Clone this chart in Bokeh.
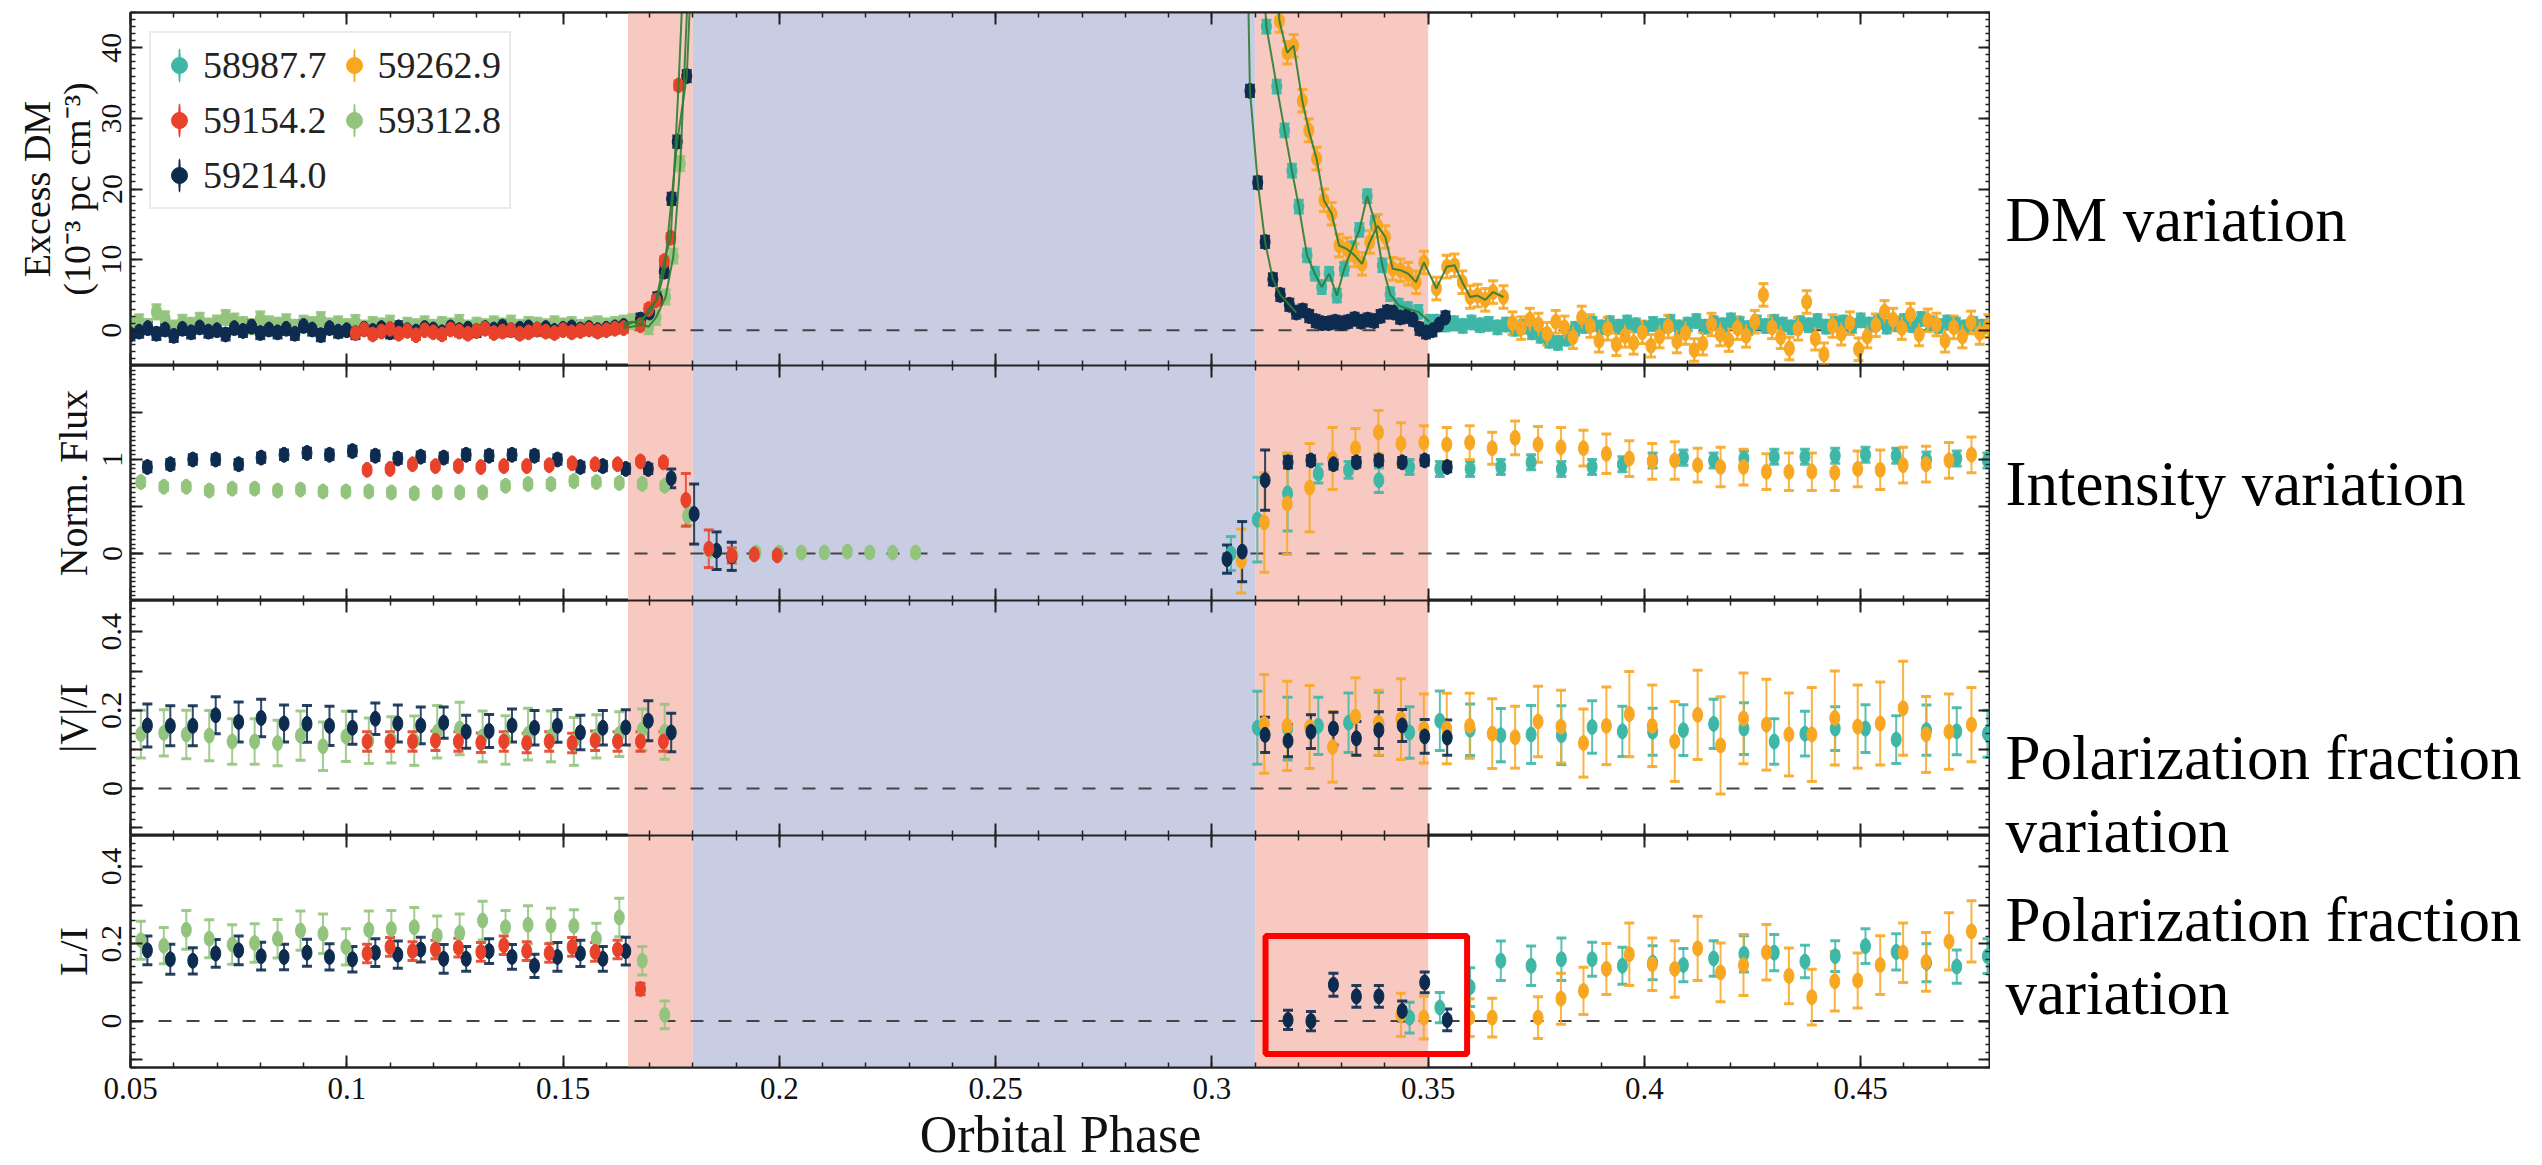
import numpy as np
from bokeh.plotting import figure
from bokeh.models import (ColumnDataSource, Whisker, TeeHead, Span, BoxAnnotation, Label,
                          Legend, LegendItem, LinearAxis, FixedTicker, Range1d)
from bokeh.layouts import column, row
from bokeh.embed import file_html
from bokeh.resources import INLINE

# ---------------------------------------------------------------- data
SERIES = ["58987.7", "59154.2", "59214.0", "59262.9", "59312.8"]
COLORS = {"58987.7": "#3fb7a7", "59154.2": "#e8432a", "59214.0": "#0d2b4f",
          "59262.9": "#f8a723", "59312.8": "#93c47d"}

# ---- panel 1 : excess DM (1e-3 pc cm^-3)
DM_NAVY_X = [0.050, 0.052, 0.054, 0.056, 0.058, 0.060, 0.062, 0.064, 0.066, 0.068, 0.070, 0.072, 0.074, 0.076, 0.078,
             0.080, 0.082, 0.084, 0.086, 0.088, 0.090, 0.092, 0.094, 0.096, 0.098, 0.100, 0.102, 0.104, 0.106, 0.108,
             0.110, 0.112, 0.114, 0.116, 0.118, 0.120, 0.122, 0.124, 0.126, 0.128, 0.130, 0.132, 0.134, 0.136, 0.138,
             0.140, 0.142, 0.144, 0.146, 0.148, 0.150, 0.152, 0.154, 0.156, 0.158, 0.160, 0.162, 0.164,
             0.1679, 0.1700, 0.1718, 0.1734, 0.1751, 0.1764, 0.1786, 0.1803,
             0.3071, 0.3088, 0.3106, 0.3123, 0.3141, 0.3158, 0.3179, 0.3195, 0.3210, 0.3225, 0.3240, 0.3255, 0.3270,
             0.3285, 0.3300, 0.3315, 0.3330, 0.3345, 0.3360, 0.3375, 0.3390, 0.3405, 0.3420, 0.3435, 0.3450, 0.3465,
             0.3480, 0.3495, 0.3510, 0.3525, 0.3540]
DM_NAVY_Y = [-0.6, -0.2, 0.3, -0.5, 0.1, -0.8, 0.2, -0.3, 0.4, -0.2, 0.0, -0.6, 0.3, -0.1, 0.5, -0.4, 0.1, -0.3, 0.2, -0.5,
             0.6, 0.1, -0.7, 0.3, -0.2, 0.0, -0.4, 0.2, -0.1, 0.3, -0.3, 0.4, 0.0, -0.2, 0.3, 0.1, -0.3, 0.4, 0.0, 0.2,
             -0.1, 0.3, 0.1, 0.5, 0.0, 0.2, 0.4, 0.1, 0.3, -0.1, 0.2, 0.4, 0.1, 0.3, 0.0, 0.2, 0.4, 0.6,
             1.5, 2.5, 4.5, 8.3, 18.6, 26.7, 36.0, 60.0,
             90.0, 33.9, 20.9, 12.5, 7.2, 5.0, 3.6, 2.5, 2.8, 2.0, 1.3, 1.0, 1.0, 1.2, 1.0, 1.2, 1.6, 1.2, 1.5, 1.3,
             2.0, 2.6, 2.5, 1.8, 2.0, 1.5, 0.2, -0.3, 0.0, 0.8, 1.8]
DM_RED_X = [0.102, 0.104, 0.106, 0.108, 0.110, 0.112, 0.114, 0.116, 0.118, 0.120, 0.122, 0.124, 0.126, 0.128, 0.130,
            0.132, 0.134, 0.136, 0.138, 0.140, 0.142, 0.144, 0.146, 0.148, 0.150, 0.152, 0.154, 0.156, 0.158, 0.160,
            0.162, 0.164, 0.1679, 0.1698, 0.1715, 0.1734, 0.1749, 0.1767, 0.1785]
DM_RED_Y = [-0.4, 0.1, -0.6, -0.2, 0.2, -0.5, -0.1, -0.7, 0.0, -0.3, -0.6, 0.1, -0.2, -0.5, -0.1, 0.2, -0.4, -0.2, 0.0,
            -0.5, -0.3, 0.1, -0.2, -0.4, 0.0, -0.3, -0.1, 0.1, -0.2, 0.0, 0.2, 0.3,
            0.7, 3.0, 4.2, 9.8, 13.1, 34.7, 60.0]
DM_GREEN_X = [0.050, 0.052, 0.054, 0.056, 0.058, 0.060, 0.062, 0.064, 0.066, 0.068, 0.070, 0.072, 0.074, 0.076, 0.078,
              0.080, 0.082, 0.084, 0.086, 0.088, 0.090, 0.092, 0.094, 0.096, 0.098, 0.100, 0.102, 0.104, 0.106, 0.108,
              0.110, 0.112, 0.114, 0.116, 0.118, 0.120, 0.122, 0.124, 0.126, 0.128, 0.130, 0.132, 0.134, 0.136, 0.138,
              0.140, 0.142, 0.144, 0.146, 0.148, 0.150, 0.152, 0.154, 0.156, 0.158, 0.160, 0.162, 0.164, 0.166,
              0.1698, 0.1715, 0.1737, 0.1755, 0.1771, 0.1790]
DM_GREEN_Y = [0.8, 1.2, 0.5, 2.6, 1.6, 0.3, 1.1, 0.7, 1.4, 0.6, 1.0, 1.8, 1.3, 0.8, 0.5, 1.6, 0.9, 0.7, 1.2, 0.4,
              1.0, 0.8, 1.5, 0.6, 0.9, 0.5, 1.1, 0.3, 0.8, 0.6, 1.0, 0.2, 0.7, 0.5, 0.9, 0.4, 0.8, 0.6, 1.1, 0.3,
              0.7, 0.5, 0.9, 0.6, 1.0, 0.4, 0.8, 0.7, 0.5, 0.9, 0.6, 0.8, 0.4, 0.7, 0.9, 0.6, 0.8, 1.0, 1.2,
              0.5, 1.8, 4.7, 10.5, 23.6, 50.0]
DM_TEAL_X = [0.3108, 0.3126, 0.3150, 0.3168, 0.3185, 0.3201, 0.3220, 0.3238, 0.3254, 0.3271, 0.3289, 0.3306, 0.3324,
             0.3341, 0.3359, 0.3377, 0.3394, 0.3412, 0.3432, 0.3453, 0.3477, 0.3503,
             0.352, 0.354, 0.356, 0.358, 0.360, 0.362, 0.364, 0.366, 0.368, 0.370, 0.372, 0.374, 0.376, 0.378, 0.380,
             0.382, 0.384, 0.386, 0.388, 0.390, 0.392, 0.394, 0.396, 0.398, 0.400, 0.402, 0.404, 0.406, 0.408, 0.410,
             0.412, 0.414, 0.416, 0.418, 0.420, 0.422, 0.424, 0.426, 0.428, 0.430, 0.432, 0.434, 0.436, 0.438, 0.440,
             0.442, 0.444, 0.446, 0.448, 0.450, 0.452, 0.454, 0.456, 0.458, 0.460, 0.462, 0.464, 0.466, 0.468, 0.470,
             0.472, 0.474, 0.476, 0.478, 0.480]
DM_TEAL_Y = [60.0, 43.0, 34.5, 28.3, 22.6, 17.5, 10.6, 8.0, 6.1, 8.0, 4.9, 8.7, 11.6, 14.2, 19.0, 15.2, 9.2, 5.1, 3.5,
             3.0, 2.6, 1.2,
             1.2, 0.8, 1.0, 0.6, 1.1, 0.7, 0.9, 0.4, 0.8, 0.2, 0.5, -0.3, -0.8, -1.5, -1.8, -1.2, 0.2, 0.6, 0.9, 0.4,
             1.0, 0.5, 1.1, 0.7, 0.3, 0.9, 0.6, 1.2, 0.4, 0.8, 1.3, 0.5, 1.0, 0.7, 1.4, 0.9, 0.3, 1.1, 0.6, 1.2,
             0.8, 0.4, 1.0, 0.7, 1.3, 0.5, 0.9, 1.1, 0.6, 1.4, 0.8, 1.2, 0.5, 0.9, 1.3, 0.7, 1.6, 1.0, 0.6, 1.1,
             0.8, 0.4, 0.9, 0.5, 1.0]
DM_ORANGE_X = [0.3138, 0.3156, 0.3174, 0.3189, 0.3209, 0.3224, 0.3242, 0.3259, 0.3277, 0.3294, 0.3312, 0.3330, 0.3347,
               0.3365, 0.3383, 0.3401, 0.3418, 0.3436, 0.3454, 0.3472, 0.3490, 0.3519, 0.3543, 0.3561, 0.3579, 0.3597,
               0.3614, 0.3632, 0.3650, 0.3674,
               0.3695, 0.3715, 0.3735, 0.3755, 0.3775, 0.3795, 0.3815, 0.3835, 0.3855, 0.3875, 0.3895, 0.3915, 0.3935,
               0.3955, 0.3975, 0.3995, 0.4015, 0.4035, 0.4055, 0.4075, 0.4095, 0.4115, 0.4135, 0.4155, 0.4175, 0.4195,
               0.4215, 0.4235, 0.4255, 0.4275, 0.4295, 0.4315, 0.4335, 0.4355, 0.4375, 0.4395, 0.4415, 0.4435, 0.4455,
               0.4475, 0.4495, 0.4515, 0.4535, 0.4555, 0.4575, 0.4595, 0.4615, 0.4635, 0.4655, 0.4675, 0.4695, 0.4715,
               0.4735, 0.4755, 0.4775, 0.4795]
DM_ORANGE_Y = [60.0, 43.8, 39.3, 40.3, 32.5, 28.3, 24.3, 18.4, 16.5, 12.0, 11.5, 10.6, 9.4, 12.5, 14.8, 13.2, 8.7, 8.5,
               8.0, 6.8, 9.6, 5.9, 9.0, 9.2, 6.8, 4.7, 4.9, 4.3, 5.4, 4.7,
               1.0, 0.3, 1.5, 0.8, -0.5, 1.2, 0.4, -1.0, 1.8, 0.6, -1.5, 0.2, -2.0, -0.8, -1.8, -0.3, -2.2, -0.9, 0.5,
               -1.6, -0.4, -2.8, -1.9, 0.8, -0.6, -1.4, 0.3, -0.8, 1.2, 5.0, 0.4, -1.0, -2.6, 0.2, 4.0, -1.2, -3.4, 0.6,
               -0.5, 1.0, -2.7, -0.9, 0.7, 2.6, 1.5, 0.3, 2.2, -0.6, 1.4, 0.8, -1.5, 0.4, -0.9, 1.1, -0.4, 0.6]
DM_ERR = {"58987.7": 0.9, "59154.2": 0.6, "59214.0": 0.8, "59262.9": 1.6, "59312.8": 1.0}

# ---- phases of the flux / polarisation sub-integrations
NAVY_L_PH = [0.0539, 0.0592, 0.0644, 0.0697, 0.0750, 0.0802, 0.0855, 0.0908, 0.0960, 0.1013, 0.1066, 0.1118, 0.1171,
             0.1224, 0.1276, 0.1329, 0.1382, 0.1434, 0.1487, 0.1540, 0.1592, 0.1645, 0.1697, 0.1750, 0.1803, 0.1855,
             0.1890]
NAVY_R_PH = [0.3035, 0.3070, 0.3123, 0.3176, 0.3229, 0.3281, 0.3334, 0.3386, 0.3440, 0.3492, 0.3544]
RED_PH = [0.1047, 0.1100, 0.1152, 0.1205, 0.1258, 0.1310, 0.1363, 0.1416, 0.1468, 0.1521, 0.1574, 0.1626, 0.1679,
          0.1732, 0.1784, 0.1837, 0.1890, 0.1942, 0.1995]
GREEN_PH = [0.0524, 0.0577, 0.0629, 0.0682, 0.0735, 0.0787, 0.0840, 0.0893, 0.0945, 0.0998, 0.1051, 0.1103, 0.1156,
            0.1209, 0.1261, 0.1314, 0.1367, 0.1419, 0.1472, 0.1525, 0.1577, 0.1630, 0.1683, 0.1735, 0.1788, 0.1841,
            0.1893, 0.1946, 0.1999, 0.2051, 0.2104, 0.2157, 0.2209, 0.2262, 0.2315]
TEAL_PH = [0.3044, 0.3105, 0.3175, 0.3246, 0.3316, 0.3386, 0.3457, 0.3527, 0.3597, 0.3668, 0.3738, 0.3808, 0.3879,
           0.3949, 0.4019, 0.4090, 0.4160, 0.4230, 0.4300, 0.4371, 0.4441, 0.4511, 0.4582, 0.4652, 0.4722, 0.4793]
ORANGE_PH = [0.3068, 0.3121, 0.3174, 0.3226, 0.3279, 0.3332, 0.3385, 0.3437, 0.3490, 0.3543, 0.3596, 0.3648, 0.3701,
             0.3754, 0.3807, 0.3859, 0.3912, 0.3965, 0.4018, 0.4070, 0.4123, 0.4176, 0.4229, 0.4282, 0.4334, 0.4387,
             0.4440, 0.4493, 0.4545, 0.4598, 0.4651, 0.4704, 0.4756]
ORANGE_LI_PH = [0.3437, 0.3490, 0.3596, 0.3648, 0.3754, 0.3807, 0.3859, 0.3912, 0.3965, 0.4018, 0.4070, 0.4123, 0.4176,
                0.4229, 0.4282, 0.4334, 0.4387, 0.4440, 0.4493, 0.4545, 0.4598, 0.4651, 0.4704, 0.4756]

# ---- panel 2 : normalised flux
FLUX_NAVY_L = [0.92, 0.95, 1.00, 1.00, 0.95, 1.02, 1.05, 1.07, 1.05, 1.09, 1.04, 1.01, 1.03, 1.02, 1.05, 1.04, 1.05,
               1.04, 1.00, 0.92, 0.93, 0.90, 0.90, 0.80, 0.42, 0.03, -0.03]
FLUX_NAVY_L_E = [0.05, 0.05, 0.05, 0.05, 0.05, 0.05, 0.05, 0.05, 0.05, 0.05, 0.05, 0.05, 0.05, 0.05, 0.05, 0.05, 0.05,
                 0.05, 0.05, 0.05, 0.05, 0.05, 0.05, 0.10, 0.32, 0.20, 0.15]
FLUX_NAVY_R = [-0.06, 0.02, 0.78, 0.97, 0.99, 0.95, 0.97, 0.99, 0.97, 0.99, 0.92]
FLUX_NAVY_R_E = [0.15, 0.32, 0.32, 0.06, 0.05, 0.05, 0.05, 0.05, 0.05, 0.05, 0.05]
FLUX_RED = [0.89, 0.90, 0.95, 0.93, 0.93, 0.92, 0.93, 0.93, 0.94, 0.96, 0.95, 0.95, 0.98, 0.97, 0.57, 0.05, -0.02,
            -0.01, -0.02]
FLUX_RED_E = [0.03, 0.03, 0.03, 0.03, 0.03, 0.03, 0.03, 0.03, 0.03, 0.03, 0.03, 0.03, 0.03, 0.03, 0.28, 0.20, 0.08,
              0.03, 0.03]
FLUX_GREEN = [0.76, 0.71, 0.71, 0.67, 0.69, 0.69, 0.67, 0.68, 0.66, 0.66, 0.66, 0.65, 0.64, 0.65, 0.65, 0.65, 0.72,
              0.74, 0.74, 0.77, 0.76, 0.75, 0.74, 0.72, 0.40, 0.03, -0.02, 0.01, 0.01, 0.01, 0.01, 0.02, 0.01, 0.01,
              0.01]
FLUX_GREEN_E = [0.04] * 24 + [0.10, 0.05] + [0.03] * 9
FLUX_TEAL = [0.00, 0.36, 0.64, 0.85, 0.89, 0.78, 0.92, 0.90, 0.90, 0.92, 0.97, 0.90, 0.92, 0.95, 0.99, 1.02, 0.99,
             1.01, 1.03, 1.03, 1.04, 1.05, 1.04, 1.00, 1.01, 0.99]
FLUX_TEAL_E = [0.18, 0.45, 0.40, 0.10, 0.09, 0.13] + [0.08] * 20
FLUX_ORANGE = [-0.08, 0.33, 0.53, 0.70, 1.01, 1.12, 1.29, 1.17, 1.18, 1.16, 1.18, 1.12, 1.23, 1.16, 1.13, 1.12, 1.06,
               1.01, 0.98, 0.99, 0.94, 0.92, 0.92, 0.87, 0.87, 0.87, 0.86, 0.90, 0.89, 0.94, 0.95, 0.99, 1.05]
FLUX_ORANGE_E = [0.34, 0.53, 0.54, 0.47, 0.33, 0.21, 0.23, 0.22, 0.18, 0.18, 0.18, 0.17, 0.18, 0.19, 0.21, 0.19, 0.21,
                 0.19, 0.19, 0.20, 0.18, 0.21, 0.19, 0.19, 0.20, 0.20, 0.19, 0.19, 0.21, 0.19, 0.19, 0.19, 0.19]

# ---- panel 3 : |V|/I
VI_NAVY_L = [0.161, 0.160, 0.160, 0.187, 0.170, 0.180, 0.166, 0.165, 0.160, 0.155, 0.178, 0.166, 0.161, 0.168, 0.145,
             0.147, 0.161, 0.155, 0.160, 0.143, 0.155, 0.156, 0.173, 0.143]
VI_NAVY_L_E = [0.055, 0.051, 0.051, 0.047, 0.051, 0.048, 0.047, 0.047, 0.050, 0.042, 0.040, 0.047, 0.047, 0.040, 0.042,
               0.042, 0.042, 0.044, 0.042, 0.044, 0.044, 0.045, 0.051, 0.049]
VI_NAVY_R = [0.137, 0.122, 0.145, 0.153, 0.128, 0.149, 0.161, 0.133, 0.130]
VI_NAVY_R_E = [0.045, 0.041, 0.043, 0.042, 0.043, 0.047, 0.041, 0.043, 0.045]
VI_RED = [0.120, 0.120, 0.120, 0.122, 0.120, 0.117, 0.120, 0.116, 0.120, 0.116, 0.122, 0.120, 0.120, 0.120]
VI_RED_E = [0.025] * 14
VI_GREEN = [0.139, 0.142, 0.138, 0.135, 0.120, 0.120, 0.116, 0.135, 0.108, 0.133, 0.122, 0.124, 0.122, 0.145, 0.153,
            0.133, 0.124, 0.139, 0.133, 0.120, 0.133, 0.139, 0.150, 0.145]
VI_GREEN_E = [0.061, 0.059, 0.062, 0.064, 0.058, 0.058, 0.058, 0.063, 0.062, 0.064, 0.058, 0.059, 0.063, 0.067, 0.067,
              0.065, 0.062, 0.066, 0.065, 0.061, 0.055, 0.057, 0.053, 0.070]
VI_TEAL = [0.155, 0.153, 0.160, 0.168, 0.165, 0.143, 0.173, 0.150, 0.136, 0.138, 0.136, 0.157, 0.146, 0.145, 0.149,
           0.165, 0.153, 0.120, 0.140, 0.153, 0.153, 0.125, 0.149, 0.146, 0.140]
VI_TEAL_E = [0.093, 0.080, 0.073, 0.076, 0.081, 0.066, 0.076, 0.066, 0.068, 0.074, 0.075, 0.067, 0.064, 0.060, 0.065,
             0.063, 0.066, 0.058, 0.057, 0.056, 0.061, 0.061, 0.064, 0.060, 0.060]
VI_ORANGE = [0.165, 0.160, 0.157, 0.106, 0.184, 0.168, 0.177, 0.153, 0.153, 0.160, 0.140, 0.131, 0.171, 0.158, 0.116,
             0.160, 0.190, 0.160, 0.120, 0.188, 0.110, 0.179, 0.163, 0.138, 0.138, 0.180, 0.158, 0.166, 0.205, 0.138,
             0.145, 0.163]
VI_ORANGE_E = [0.126, 0.114, 0.106, 0.090, 0.099, 0.083, 0.103, 0.088, 0.090, 0.083, 0.089, 0.079, 0.090, 0.093, 0.087,
               0.099, 0.109, 0.104, 0.102, 0.114, 0.124, 0.116, 0.116, 0.106, 0.120, 0.120, 0.106, 0.106, 0.120, 0.097,
               0.096, 0.095]

# ---- panel 4 : L/I
LI_NAVY_L = [0.183, 0.160, 0.156, 0.175, 0.183, 0.168, 0.166, 0.177, 0.166, 0.160, 0.177, 0.172, 0.185, 0.161, 0.161,
             0.181, 0.166, 0.143, 0.166, 0.175, 0.161, 0.181]
LI_NAVY_L_E = [0.037, 0.039, 0.034, 0.036, 0.037, 0.036, 0.033, 0.035, 0.034, 0.033, 0.036, 0.035, 0.032, 0.037, 0.032,
               0.032, 0.032, 0.030, 0.037, 0.034, 0.032, 0.036]
LI_NAVY_R = [0.003, 0.000, 0.094, 0.064, 0.064, 0.026, 0.100, 0.003]
LI_NAVY_R_E = [0.025, 0.025, 0.030, 0.028, 0.028, 0.026, 0.027, 0.028]
LI_RED = [0.175, 0.192, 0.181, 0.185, 0.190, 0.179, 0.196, 0.181, 0.176, 0.192, 0.179, 0.185, 0.083]
LI_RED_E = [0.024] * 12 + [0.015]
LI_GREEN = [0.209, 0.195, 0.236, 0.213, 0.198, 0.202, 0.213, 0.234, 0.226, 0.192, 0.236, 0.238, 0.243, 0.221, 0.228,
            0.260, 0.243, 0.249, 0.247, 0.246, 0.213, 0.268, 0.156, 0.016]
LI_GREEN_E = [0.049, 0.047, 0.050, 0.049, 0.051, 0.050, 0.050, 0.051, 0.051, 0.047, 0.049, 0.048, 0.051, 0.051, 0.049,
              0.050, 0.043, 0.049, 0.045, 0.042, 0.040, 0.050, 0.037, 0.036]
LI_TEAL = [0.009, 0.035, 0.088, 0.156, 0.143, 0.160, 0.160, 0.143, 0.151, 0.145, 0.162, 0.174, 0.177, 0.154, 0.168,
           0.194, 0.179, 0.151, 0.141, 0.168]
LI_TEAL_E = [0.040, 0.039, 0.050, 0.051, 0.051, 0.055, 0.044, 0.048, 0.044, 0.043, 0.046, 0.047, 0.047, 0.042, 0.040,
             0.045, 0.047, 0.049, 0.043, 0.045]
LI_ORANGE = [0.016, 0.009, 0.009, 0.009, 0.009, 0.058, 0.078, 0.135, 0.173, 0.147, 0.135, 0.188, 0.126, 0.145, 0.178,
             0.117, 0.062, 0.103, 0.105, 0.145, 0.177, 0.153, 0.206, 0.232]
LI_ORANGE_E = [0.056, 0.055, 0.049, 0.050, 0.054, 0.066, 0.061, 0.066, 0.081, 0.068, 0.073, 0.083, 0.076, 0.079, 0.072,
               0.072, 0.072, 0.077, 0.071, 0.076, 0.077, 0.076, 0.074, 0.079]

# ---- annotations
SHADE_RED = [(0.165, 0.18), (0.31, 0.35)]
SHADE_BLUE = [(0.18, 0.31)]
BOX = dict(left=0.3124, right=0.359, bottom=-0.085, top=0.22)
# captions to the right of the panels: (text, vertical centre in page pixels from the top)
CAPTIONS = [("DM variation", 219), ("Intensity variation", 483),
            ("Polarization fraction", 757), ("variation", 830),
            ("Polarization fraction", 919), ("variation", 992)]
X_TICKS = [0.05, 0.1, 0.15, 0.2, 0.25, 0.3, 0.35, 0.4, 0.45]
X_LABELS = ["0.05", "0.1", "0.15", "0.2", "0.25", "0.3", "0.35", "0.4", "0.45"]

# ---------------------------------------------------------------- style
FONT = "Liberation Serif"
INK = "#222222"
SALMON = "#f8c9c0"
LAVENDER = "#c9cde4"
LINE_GREEN = "#2e7d32"
XR = Range1d(0.05, 0.48)
PLOT_W, TEXT_W, PAGE_H = 1990, 552, 1165
LEFT = 130


def make_panel(height, yr, btop, bbot):
    p = figure(width=PLOT_W, height=height, x_range=XR, y_range=Range1d(*yr),
               output_backend="svg", toolbar_location=None,
               x_axis_location=None, y_axis_location=None,
               min_border_left=LEFT, min_border_right=0,
               min_border_top=btop, min_border_bottom=bbot)
    p.grid.visible = False
    p.outline_line_color = INK
    p.outline_line_width = 2
    p.background_fill_color = "white"
    p.border_fill_color = "white"
    for a, b in SHADE_RED:
        p.add_layout(BoxAnnotation(left=a, right=b, fill_color=SALMON, fill_alpha=1.0,
                                   line_color=None, level="underlay"))
    for a, b in SHADE_BLUE:
        p.add_layout(BoxAnnotation(left=a, right=b, fill_color=LAVENDER, fill_alpha=1.0,
                                   line_color=None, level="underlay"))
    p.add_layout(Span(location=0, dimension="width", line_color="#444444", line_width=2,
                      line_dash="13 15", level="underlay"))
    return p


def style_axis(ax, show):
    ax.major_tick_in = 12
    ax.major_tick_out = 0
    ax.minor_tick_in = 5
    ax.minor_tick_out = 0
    ax.major_tick_line_width = 2
    ax.minor_tick_line_width = 1.5
    ax.major_tick_line_color = INK
    ax.minor_tick_line_color = INK
    ax.axis_line_width = 2
    ax.axis_line_color = INK
    ax.major_label_text_font = FONT
    ax.major_label_text_font_style = "normal"
    ax.major_label_text_color = "#111111"
    ax.axis_label_text_font = FONT
    ax.axis_label_text_font_style = "normal"
    ax.axis_label_text_color = "#111111"
    if not show:
        ax.major_label_text_font_size = "1px"
        ax.major_label_text_color = None
        ax.major_label_standoff = 0


def add_axes(p, yticks, ylabels, yminor, ylabel, ylabel_size, ystand, show_x):
    xt = FixedTicker(ticks=X_TICKS, minor_ticks=[round(0.05 + 0.01 * i, 3) for i in range(44)])
    for loc in ("below", "above"):
        ax = LinearAxis(ticker=xt)
        style_axis(ax, show_x and loc == "below")
        if show_x and loc == "below":
            ax.major_label_overrides = dict(zip(X_TICKS, X_LABELS))
            ax.major_label_text_font_size = "31px"
            ax.major_label_text_line_height = 0.8
            ax.major_label_standoff = 10
            ax.axis_label = "Orbital Phase"
            ax.axis_label_text_font_size = "52px"
            ax.axis_label_text_line_height = 0.8
            ax.axis_label_standoff = 4
        p.add_layout(ax, loc)
    yt = FixedTicker(ticks=yticks, minor_ticks=yminor)
    for loc in ("left", "right"):
        ax = LinearAxis(ticker=yt)
        style_axis(ax, loc == "left")
        if loc == "left":
            ax.major_label_overrides = dict(zip(yticks, ylabels))
            ax.major_label_text_font_size = "30px"
            ax.major_label_orientation = "vertical"
            ax.major_label_standoff = 9
            ax.axis_label = ylabel
            ax.axis_label_text_font_size = ylabel_size
            ax.axis_label_text_line_height = 0.95
            ax.axis_label_standoff = ystand
        p.add_layout(ax, loc)


def plot_series(p, x, y, err, color, legend_parts=False):
    assert len(x) == len(y) == len(err), (color, len(x), len(y), len(err))
    src = ColumnDataSource(dict(x=list(x), y=list(y),
                                lo=[a - e for a, e in zip(y, err)],
                                hi=[a + e for a, e in zip(y, err)],
                                h2=[2 * e for e in err]))
    head = dict(size=10, line_color=color, line_width=3, line_alpha=0.9)
    p.add_layout(Whisker(base="x", lower="lo", upper="hi", source=src, dimension="height",
                         line_color=color, line_width=2, line_alpha=0.85, level="underlay",
                         upper_head=TeeHead(**head), lower_head=TeeHead(**head)))
    parts = []
    if legend_parts:
        bar = p.ellipse(x="x", y="y", width=0.2, height="h2", width_units="screen",
                        source=src, fill_color=color, line_color=color, line_width=2)
        dot = p.scatter(x="x", y="y", size=9, marker="circle", source=src,
                        fill_color=color, line_color=color)
        parts = [bar, dot]
    p.ellipse(x="x", y="y", width=10, height=15, width_units="screen", height_units="screen",
              source=src, fill_color=color, line_color=color, line_width=1)
    return parts


# ---------------------------------------------------------------- panel 1
p1 = make_panel(365, (-5, 45), 12, 0)
add_axes(p1, [0, 10, 20, 30, 40], ["0", "10", "20", "30", "40"],
         [float(v) for v in range(-5, 46)],
         "Excess DM\n(10\u207b\u00b3 pc cm\u207b\u00b3)", "38px", 2, False)

dm = {
    "59312.8": (DM_GREEN_X, DM_GREEN_Y),
    "58987.7": (DM_TEAL_X, DM_TEAL_Y),
    "59262.9": (DM_ORANGE_X, DM_ORANGE_Y),
    "59214.0": (DM_NAVY_X, DM_NAVY_Y),
    "59154.2": (DM_RED_X, DM_RED_Y),
}
legend_r = {}
for name, (xs, ys) in dm.items():
    legend_r[name] = plot_series(p1, xs, ys, [DM_ERR[name]] * len(xs), COLORS[name], legend_parts=True)

# thin connecting lines through the eclipse-edge points
segments = [
    (DM_NAVY_X, DM_NAVY_Y, 0.163, 0.2), (DM_RED_X, DM_RED_Y, 0.163, 0.2), (DM_GREEN_X, DM_GREEN_Y, 0.163, 0.2),
    (DM_NAVY_X, DM_NAVY_Y, 0.30, 0.3196), (DM_TEAL_X, DM_TEAL_Y, 0.30, 0.3504),
    (DM_ORANGE_X, DM_ORANGE_Y, 0.30, 0.3675),
]
for xs, ys, a, b in segments:
    sx = [x for x in xs if a <= x <= b]
    sy = [y for x, y in zip(xs, ys) if a <= x <= b]
    p1.line(sx, sy, line_color=LINE_GREEN, line_width=2, line_alpha=0.9)

items = [LegendItem(label=n, renderers=legend_r[n]) for n in SERIES]
leg = Legend(items=items, location="top_left", ncols=2, orientation="vertical",
             label_text_font=FONT, label_text_font_size="38px", label_text_color="#222222",
             glyph_width=40, glyph_height=48, label_height=48, spacing=7, padding=8, margin=19,
             label_standoff=4, border_line_color="#d5d5d5", border_line_width=2,
             background_fill_color="white", background_fill_alpha=0.9)
p1.add_layout(leg)

# ---------------------------------------------------------------- panel 2
p2 = make_panel(235, (-0.5, 2.0), 0, 0)
add_axes(p2, [-0.5, 0, 0.5, 1, 1.5], ["", "0", "", "1", ""],
         [round(-0.5 + 0.05 * i, 3) for i in range(51)], "Norm. Flux", "40px", 4, False)
plot_series(p2, GREEN_PH, FLUX_GREEN, FLUX_GREEN_E, COLORS["59312.8"])
plot_series(p2, TEAL_PH, FLUX_TEAL, FLUX_TEAL_E, COLORS["58987.7"])
plot_series(p2, ORANGE_PH, FLUX_ORANGE, FLUX_ORANGE_E, COLORS["59262.9"])
plot_series(p2, NAVY_L_PH, FLUX_NAVY_L, FLUX_NAVY_L_E, COLORS["59214.0"])
plot_series(p2, NAVY_R_PH, FLUX_NAVY_R, FLUX_NAVY_R_E, COLORS["59214.0"])
plot_series(p2, RED_PH, FLUX_RED, FLUX_RED_E, COLORS["59154.2"])

# ---------------------------------------------------------------- panel 3
pol_ticks = [-0.1, 0, 0.1, 0.2, 0.3, 0.4]
pol_labels = ["", "0", "", "0.2", "", "0.4"]
pol_minor = [round(-0.12 + 0.02 * i, 3) for i in range(31)]
p3 = make_panel(235, (-0.12, 0.48), 0, 0)
add_axes(p3, pol_ticks, pol_labels, pol_minor, "|V|/I", "40px", 4, False)
plot_series(p3, GREEN_PH[:24], VI_GREEN, VI_GREEN_E, COLORS["59312.8"])
plot_series(p3, TEAL_PH[1:], VI_TEAL, VI_TEAL_E, COLORS["58987.7"])
plot_series(p3, ORANGE_PH[1:], VI_ORANGE, VI_ORANGE_E, COLORS["59262.9"])
plot_series(p3, NAVY_L_PH[:24], VI_NAVY_L, VI_NAVY_L_E, COLORS["59214.0"])
plot_series(p3, NAVY_R_PH[2:], VI_NAVY_R, VI_NAVY_R_E, COLORS["59214.0"])
plot_series(p3, RED_PH[:14], VI_RED, VI_RED_E, COLORS["59154.2"])

# ---------------------------------------------------------------- panel 4
p4 = make_panel(330, (-0.12, 0.48), 0, 95)
add_axes(p4, pol_ticks, pol_labels, pol_minor, "L/I", "40px", 4, True)
plot_series(p4, GREEN_PH[:24], LI_GREEN, LI_GREEN_E, COLORS["59312.8"])
plot_series(p4, TEAL_PH[6:], LI_TEAL, LI_TEAL_E, COLORS["58987.7"])
plot_series(p4, ORANGE_LI_PH, LI_ORANGE, LI_ORANGE_E, COLORS["59262.9"])
plot_series(p4, NAVY_L_PH[:22], LI_NAVY_L, LI_NAVY_L_E, COLORS["59214.0"])
plot_series(p4, NAVY_R_PH[3:], LI_NAVY_R, LI_NAVY_R_E, COLORS["59214.0"])
plot_series(p4, RED_PH[:13], LI_RED, LI_RED_E, COLORS["59154.2"])
p4.add_layout(BoxAnnotation(fill_color=None, fill_alpha=0, line_color="#ff0000", line_alpha=1.0,
                            line_width=6, level="overlay", **BOX))

# ---------------------------------------------------------------- right-hand captions
pt = figure(width=TEXT_W, height=PAGE_H, x_range=Range1d(0, TEXT_W), y_range=Range1d(PAGE_H, 0),
            output_backend="svg", toolbar_location=None, x_axis_location=None, y_axis_location=None,
            min_border=0)
pt.grid.visible = False
pt.outline_line_color = None
pt.background_fill_color = "white"
pt.border_fill_color = "white"
for text, mid in CAPTIONS:
    pt.add_layout(Label(x=15, y=mid, text=text, text_font=FONT, text_font_size="63px",
                        text_color="#000000", text_baseline="middle", text_align="left"))

layout = row(column(p1, p2, p3, p4, spacing=0), pt, spacing=0)
open("out.html", "w").write(file_html(layout, INLINE))
